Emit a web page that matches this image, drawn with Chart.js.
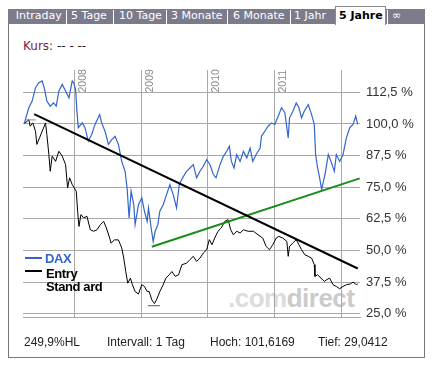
<!DOCTYPE html>
<html>
<head>
<meta charset="utf-8">
<script src="https://cdn.jsdelivr.net/npm/chart.js@4"></script>
<style>
body{margin:0;background:#fff;width:433px;height:370px;overflow:hidden;position:relative;font-family:"Liberation Sans",Arial,sans-serif}
.abs{position:absolute;white-space:nowrap}
#tabbar{left:8px;top:9px;width:417px;height:15px;background:#7b7b8b}
.tab{position:absolute;top:10.4px;font:11px/11px "DejaVu Sans",Verdana,sans-serif;color:#fff;white-space:nowrap}
.sep{position:absolute;top:10px;width:1px;height:14px;background:#fff}
#active{left:335px;top:6px;width:49px;height:18px;background:#fff;border:1px solid #8a8a8a;border-bottom:none}
#panel{left:8px;top:24px;width:415px;height:333px;border:1px solid #777;border-top:none}
#kurs{left:23px;top:39.8px;font:12px/12px "DejaVu Sans",Verdana,sans-serif;color:#222}
#kurs span{color:#7a1f45}
#mark{left:228px;top:283px;font:bold 26px/30px "Liberation Sans",Arial,sans-serif;letter-spacing:-0.5px}
#chart{position:absolute;left:0;top:0}
.leg{position:absolute;font:bold 13px/13px "Liberation Sans",Arial,sans-serif;letter-spacing:-0.4px;white-space:nowrap}
.legline{position:absolute;left:25px;width:17px;height:2px}
.foot{position:absolute;top:336.3px;font:12px/12px "Liberation Sans",Arial,sans-serif;color:#222;white-space:nowrap}
</style>
</head>
<body>
<div id="tabbar" class="abs"></div>
<div class="tab" style="left:15.7px">Intraday</div>
<div class="sep" style="left:66px"></div>
<div class="tab" style="left:71px">5 Tage</div>
<div class="sep" style="left:113px"></div>
<div class="tab" style="left:119px">10 Tage</div>
<div class="sep" style="left:166px"></div>
<div class="tab" style="left:171px">3 Monate</div>
<div class="sep" style="left:227px"></div>
<div class="tab" style="left:233px">6 Monate</div>
<div class="sep" style="left:290px"></div>
<div class="tab" style="left:294px">1 Jahr</div>
<div class="sep" style="left:387px"></div>
<div class="tab" style="left:392px">∞</div>
<div id="active" class="abs"></div>
<div class="tab" style="left:339px;color:#000;font-weight:bold">5 Jahre</div>
<div id="panel" class="abs"></div>
<div id="kurs" class="abs"><span>Kurs:</span> -- - --</div>
<div id="mark" class="abs"><span style="color:#dcdcdc">.com</span><span style="color:#cbcbcb">direct</span></div>
<canvas id="chart" width="433" height="370"></canvas>
<div class="legline" style="top:257px;background:#3366cc"></div>
<div class="leg" style="left:45px;top:252.3px;color:#3366cc">DAX</div>
<div class="legline" style="top:270px;background:#000"></div>
<div class="leg" style="left:46px;top:267px;color:#000">Entry</div>
<div class="leg" style="left:46px;top:280px;color:#000">Stand ard</div>
<div class="foot" style="left:24px">249,9%HL</div>
<div class="foot" style="left:107px">Intervall: 1 Tag</div>
<div class="foot" style="left:210px">Hoch: 101,6169</div>
<div class="foot" style="left:318px">Tief: 29,0412</div>
<script>
// Werte in % vom Startkurs, x = Dezimaljahr
const daxYears = [2007.25,2007.32,2007.37,2007.42,2007.47,2007.52,2007.55,2007.59,2007.64,2007.69,
  2007.73,2007.77,2007.82,2007.87,2007.92,2007.97,2007.99,2008.02,2008.04,2008.06,
  2008.12,2008.16,2008.21,2008.26,2008.31,2008.38,2008.41,2008.46,2008.51,2008.56,
  2008.61,2008.66,2008.71,2008.76,2008.79,2008.82,2008.85,2008.89,2008.91,2008.96,
  2009.01,2009.05,2009.09,2009.11,2009.15,2009.18,2009.21,2009.25,2009.28,2009.33,
  2009.38,2009.43,2009.48,2009.53,2009.57,2009.62,2009.68,2009.73,2009.78,2009.83,
  2009.88,2009.93,2009.98,2010.03,2010.08,2010.12,2010.18,2010.23,2010.28,2010.32,
  2010.35,2010.39,2010.43,2010.48,2010.53,2010.58,2010.63,2010.67,2010.72,2010.78,
  2010.80,2010.85,2010.90,2010.95,2011.00,2011.05,2011.10,2011.15,2011.20,2011.22,
  2011.27,2011.32,2011.36,2011.40,2011.44,2011.50,2011.55,2011.59,2011.61,2011.64,
  2011.67,2011.70,2011.75,2011.80,2011.84,2011.89,2011.92,2011.97,2012.02,2012.07,
  2012.12,2012.17,2012.21,2012.24];
const daxValues = [100,106.4,109,114.3,116.3,117,114.3,109,107,108.3,
  107,113,115.6,113,110.3,117,116.3,113.6,105,98.5,
  100.4,98.5,93.2,95.8,99.8,103.7,100.4,97.1,91.9,93.8,
  95.1,91.9,85.2,81.3,74.7,62.9,73.4,68.1,60.2,68.1,
  70.8,65.5,61.5,66.8,58.9,53.6,57.6,60.2,65.5,68.1,
  72.1,76,72.1,66.8,76,78.7,81.3,82.6,83.9,78.7,
  81.3,83.3,85.9,83.9,80,78.7,83.9,87.2,89.2,91.2,
  85.2,82.6,87.9,85.2,89.2,86.6,90.5,85.2,87.9,90.5,
  95.1,97.1,99.1,100.4,99.8,103,106.4,104.4,94.5,102.4,
  105,108.3,106.4,102.4,105,107.6,103.7,99.8,87.9,82.6,
  78.7,74.1,80,87.9,85.2,81.3,87.9,85.2,87.9,94.5,
  98.5,99.8,103.1,99.8];

const entryYears = [2007.25,2007.32,2007.34,2007.38,2007.42,2007.44,2007.48,2007.52,2007.57,2007.59,
  2007.62,2007.64,2007.67,2007.72,2007.77,2007.82,2007.87,2007.90,2007.93,2007.97,
  2008.00,2008.03,2008.05,2008.07,2008.10,2008.14,2008.19,2008.24,2008.29,2008.34,
  2008.39,2008.44,2008.48,2008.53,2008.55,2008.60,2008.66,2008.71,2008.74,2008.77,
  2008.80,2008.84,2008.87,2008.91,2008.96,2009.01,2009.05,2009.09,2009.12,2009.16,
  2009.20,2009.23,2009.28,2009.33,2009.37,2009.42,2009.46,2009.51,2009.56,2009.61,
  2009.68,2009.73,2009.78,2009.83,2009.88,2009.93,2009.98,2010.02,2010.06,2010.10,
  2010.15,2010.20,2010.25,2010.30,2010.34,2010.38,2010.43,2010.48,2010.53,2010.60,
  2010.68,2010.75,2010.82,2010.87,2010.92,2010.97,2011.02,2011.06,2011.12,2011.18,
  2011.20,2011.22,2011.27,2011.32,2011.36,2011.40,2011.45,2011.50,2011.55,2011.59,
  2011.60,2011.64,2011.69,2011.74,2011.77,2011.82,2011.87,2011.92,2011.97,2012.02,
  2012.07,2012.13,2012.17,2012.22,2012.24];
const entryValues = [100,101.7,99.1,100.4,97.1,91.9,94.5,97.1,100.4,95.8,
  87.9,81.3,87.3,85.2,89.2,87.3,83.9,74.7,78.7,76,
  74.7,73.4,65.5,59.5,64.2,62.9,63.5,58.2,57.6,58.2,
  60.2,61.5,58.9,54.9,52.9,54.2,54.2,51,47,41.7,
  37.1,39.1,36.5,33.8,32.8,36.5,35.8,33.8,33.8,30.5,
  29.04,30.5,33.8,36.5,39.1,40.4,41.7,39.8,40.4,44.4,
  45,46.4,47.7,45.7,47,49,50.3,54.3,52.3,54.9,
  57.6,58.9,61.5,62.2,58.2,56.2,57.6,56.9,58.2,57.6,
  57.6,56.2,54.9,51.6,50.3,52.3,54.9,55.6,54.9,53.6,
  47.7,51.6,53,54.3,52.3,50.3,48.3,47.7,47,44.4,
  39.8,40.4,39.1,37.8,38.4,39.1,36.5,35.8,34.9,35.8,
  36.5,36.8,37.5,36.5,36.8];

// Trendlinien
const downTrendYears = [2007.40, 2012.24];
const downTrendValues = [103.9, 42.9];
const upTrendYears = [2009.16, 2012.27];
const upTrendValues = [51.5, 78.5];

// Hoch/Tief-Markierung (Entry Standard)
const highYears = [2007.27, 2007.42];
const highValues = [101.6, 101.6];
const lowYears = [2009.10, 2009.28];
const lowValues = [28.2, 28.2];

const yTicks = [25, 37.5, 50, 62.5, 75, 87.5, 100, 112.5];
const xTicks = [2008, 2009, 2010, 2011, 2012];
const yearLabels = [2008, 2009, 2010, 2011];

const pts = (xs, ys) => xs.map((x, i) => ({x, y: ys[i]}));

const yearLabelPlugin = {
  id: 'yearLabels',
  beforeDatasetsDraw(chart) {
    const {ctx, chartArea, scales: {x}} = chart;
    ctx.save();
    ctx.fillStyle = '#8a8a8a';
    ctx.font = '10.5px "Liberation Sans", Arial, sans-serif';
    ctx.textAlign = 'left';
    ctx.textBaseline = 'alphabetic';
    yearLabels.forEach(yr => {
      const px = x.getPixelForValue(yr);
      ctx.save();
      ctx.translate(px + 11.5, chartArea.top + 22.5);
      ctx.rotate(-Math.PI / 2);
      ctx.fillText(String(yr), 0, 0);
      ctx.restore();
    });
    ctx.restore();
  }
};

const line = (data, color, width) => ({
  data, borderColor: color, borderWidth: width, pointRadius: 0, tension: 0, fill: false
});

new Chart(document.getElementById('chart'), {
  type: 'line',
  data: {
    datasets: [
      Object.assign(line(pts(downTrendYears, downTrendValues), '#000', 2), {label: 'Trend'}),
      Object.assign(line(pts(upTrendYears, upTrendValues), '#1a8c1a', 2), {label: 'Trend 2'}),
      Object.assign(line(pts(highYears, highValues), '#888', 1), {label: 'Hoch'}),
      Object.assign(line(pts(lowYears, lowValues), '#555', 1), {label: 'Tief'}),
      Object.assign(line(pts(daxYears, daxValues), '#3366cc', 1.2), {label: 'DAX'}),
      Object.assign(line(pts(entryYears, entryValues), '#000', 1), {label: 'Entry Standard'})
    ]
  },
  options: {
    responsive: false,
    animation: false,
    layout: {padding: {left: 23, top: 70, right: 0, bottom: 53}},
    plugins: {legend: {display: false}, tooltip: {enabled: false}},
    scales: {
      x: {
        type: 'linear', min: 2007.233, max: 2012.274,
        afterBuildTicks: s => { s.ticks = xTicks.map(v => ({value: v})); },
        afterFit: s => { s.height = 0; },
        ticks: {display: false},
        grid: {color: '#a8a8a8', drawTicks: false},
        border: {display: true, color: '#a8a8a8'}
      },
      y: {
        position: 'right', min: 23.74, max: 121.3,
        afterBuildTicks: s => { s.ticks = yTicks.map(v => ({value: v})); },
        afterFit: s => { s.width = 73; },
        ticks: {
          padding: 6, color: '#333',
          font: {family: '"Liberation Sans", Arial, sans-serif', size: 13},
          callback: v => v.toFixed(1).replace('.', ',') + ' %'
        },
        grid: {color: '#a8a8a8', drawTicks: false},
        border: {display: false}
      }
    }
  },
  plugins: [yearLabelPlugin]
});
</script>
</body>
</html>
